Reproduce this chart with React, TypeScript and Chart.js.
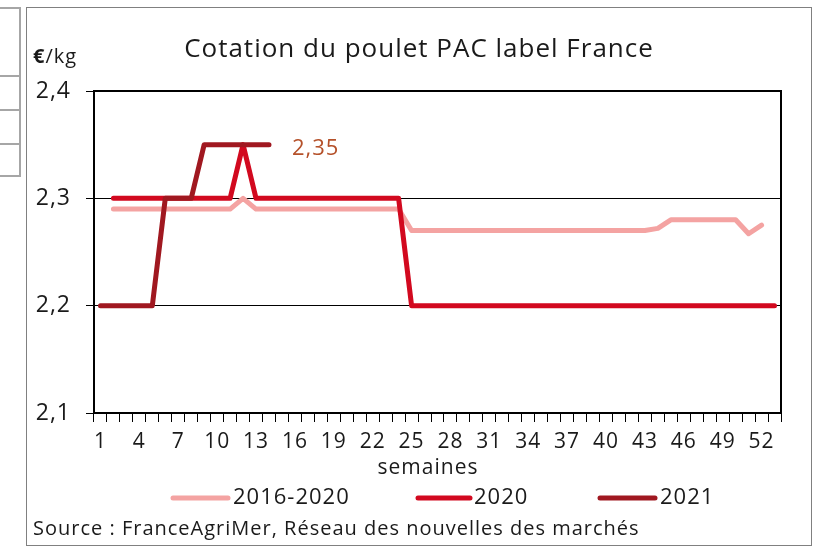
import React, { useEffect, useRef } from 'react';
import { Chart, registerables } from 'chart.js';
Chart.register(...registerables);

const FONT = '"Open Sans", sans-serif';
const SPACING = '1px';

const weeks: string[] = Array.from({ length: 53 }, (_, i) => String(i + 1));

const avg20162020: (number | null)[] = [
  null, 2.29, 2.29, 2.29, 2.29, 2.29, 2.29, 2.29, 2.29, 2.29,
  2.29, 2.30, 2.29, 2.29, 2.29, 2.29, 2.29, 2.29, 2.29, 2.29,
  2.29, 2.29, 2.29, 2.29, 2.27, 2.27, 2.27, 2.27, 2.27, 2.27,
  2.27, 2.27, 2.27, 2.27, 2.27, 2.27, 2.27, 2.27, 2.27, 2.27,
  2.27, 2.27, 2.27, 2.272, 2.28, 2.28, 2.28, 2.28, 2.28, 2.28,
  2.267, 2.275, null,
];

const y2020: (number | null)[] = [
  null, 2.3, 2.3, 2.3, 2.3, 2.3, 2.3, 2.3, 2.3, 2.3,
  2.3, 2.35, 2.3, 2.3, 2.3, 2.3, 2.3, 2.3, 2.3, 2.3,
  2.3, 2.3, 2.3, 2.3, 2.2, 2.2, 2.2, 2.2, 2.2, 2.2,
  2.2, 2.2, 2.2, 2.2, 2.2, 2.2, 2.2, 2.2, 2.2, 2.2,
  2.2, 2.2, 2.2, 2.2, 2.2, 2.2, 2.2, 2.2, 2.2, 2.2,
  2.2, 2.2, 2.2,
];

const y2021: (number | null)[] = [
  2.2, 2.2, 2.2, 2.2, 2.2, 2.3, 2.3, 2.3, 2.35, 2.35,
  2.35, 2.35, 2.35, 2.35,
];

const seriesNames = ['2016-2020', '2020', '2021'];
const seriesColors = ['#F4A3A2', '#D2091F', '#A01820'];
const yTicks = [2.1, 2.2, 2.3, 2.4];
const lastLabel = '2,35';

const extras = {
  id: 'extras',
  afterInit(chart: any) {
    chart.ctx.letterSpacing = SPACING;
  },
  beforeDraw(chart: any) {
    chart.ctx.letterSpacing = SPACING;
  },
  beforeDatasetsDraw(chart: any) {
    const { ctx, chartArea: a } = chart;
    ctx.save();
    ctx.strokeStyle = '#000';
    ctx.lineWidth = 2;
    ctx.strokeRect(a.left, a.top, a.right - a.left, a.bottom - a.top);
    ctx.restore();
  },
  afterDraw(chart: any) {
    const { ctx } = chart;
    ctx.save();
    ctx.letterSpacing = SPACING;
    ctx.fillStyle = '#1a1a1a';
    ctx.textBaseline = 'middle';
    // title
    ctx.font = `26px ${FONT}`;
    ctx.textAlign = 'center';
    ctx.fillText('Cotation du poulet PAC label France', 419, 50);
    // unit
    ctx.textAlign = 'left';
    ctx.font = `bold 20px ${FONT}`;
    ctx.fillText('€', 33, 57);
    const w = ctx.measureText('€').width;
    ctx.font = `20px ${FONT}`;
    ctx.fillText('/kg', 33 + w, 57);
    // x title
    ctx.textAlign = 'center';
    ctx.font = `21px ${FONT}`;
    ctx.fillText('semaines', 428, 468);
    // last value label
    ctx.textAlign = 'left';
    ctx.fillStyle = '#B5512A';
    ctx.font = `22px ${FONT}`;
    ctx.fillText(lastLabel, 292, 149);
    // legend
    const legendPos = [
      [173, 228, 233],
      [418, 470, 474],
      [600, 655, 660],
    ];
    ctx.font = `22px ${FONT}`;
    seriesNames.forEach((name, i) => {
      const [x0, x1, tx] = legendPos[i];
      ctx.strokeStyle = seriesColors[i];
      ctx.lineWidth = 5;
      ctx.lineCap = 'round';
      ctx.beginPath();
      ctx.moveTo(x0, 498);
      ctx.lineTo(x1, 498);
      ctx.stroke();
      ctx.fillStyle = '#1a1a1a';
      ctx.fillText(name, tx, 498);
    });
    // source
    ctx.font = `20px ${FONT}`;
    ctx.fillText('Source : FranceAgriMer, Réseau des nouvelles des marchés', 33, 529);
    ctx.restore();
  },
};

export default function App() {
  const ref = useRef<HTMLCanvasElement>(null);
  useEffect(() => {
    if (!ref.current) return;
    const mk = (label: string, data: (number | null)[], color: string, order: number) => ({
      label,
      data,
      borderColor: color,
      backgroundColor: color,
      borderWidth: 5,
      pointRadius: 0,
      pointHoverRadius: 0,
      tension: 0,
      fill: false,
      spanGaps: false,
      borderCapStyle: 'round',
      borderJoinStyle: 'round',
      order,
    });
    const chart = new Chart(ref.current, {
      type: 'line',
      data: {
        labels: weeks,
        datasets: [
          mk(seriesNames[0], avg20162020, seriesColors[0], 3),
          mk(seriesNames[1], y2020, seriesColors[1], 2),
          mk(seriesNames[2], y2021, seriesColors[2], 1),
        ] as any,
      },
      options: {
        animation: false,
        responsive: false,
        maintainAspectRatio: false,
        events: [],
        layout: { padding: { left: 0, top: 91, right: 40, bottom: 94 } },
        plugins: { legend: { display: false }, title: { display: false }, tooltip: { enabled: false } },
        scales: {
          x: {
            type: 'category',
            offset: true,
            grid: {
              display: true,
              offset: true,
              drawOnChartArea: false,
              drawTicks: true,
              tickLength: 9,
              color: '#000',
              lineWidth: 1,
            },
            border: { display: true, color: '#000', width: 2 },
            ticks: {
              autoSkip: false,
              maxRotation: 0,
              minRotation: 0,
              padding: 7,
              color: '#1a1a1a',
              font: { family: FONT, size: 21 },
              callback: (_v: any, i: number) => (i % 3 === 0 ? weeks[i] : ''),
            },
            afterFit: (s: any) => { s.height = 40; },
          },
          y: {
            min: yTicks[0],
            max: yTicks[yTicks.length - 1],
            afterBuildTicks: (s: any) => { s.ticks = yTicks.map((v) => ({ value: v })); },
            grid: {
              color: '#000',
              lineWidth: 1,
              drawTicks: true,
              tickLength: 8,
            },
            border: { display: true, color: '#000', width: 2 },
            ticks: {
              padding: 15,
              color: '#1a1a1a',
              font: { family: FONT, size: 23 },
              callback: (v: any) => Number(v).toFixed(1).replace('.', ','),
            },
            afterFit: (s: any) => { s.width = 94; },
          },
        },
      } as any,
      plugins: [extras],
    });
    return () => chart.destroy();
  }, []);

  const cell = (top: number, height: number) => (
    <div
      key={top}
      style={{
        position: 'absolute', left: -4, top, width: 25, height,
        border: '2px solid #A6A6A6', boxSizing: 'border-box',
      }}
    />
  );

  return (
    <div style={{ position: 'fixed', left: 0, top: 0, width: 821, height: 547, background: '#fff' }}>
      {cell(7, 70)}
      {cell(75, 36)}
      {cell(109, 36)}
      {cell(143, 34)}
      <div
        style={{
          position: 'absolute', left: 26, top: 7, width: 786, height: 539,
          border: '1px solid #808080', boxSizing: 'border-box',
        }}
      />
      <canvas ref={ref} width={821} height={547} style={{ position: 'absolute', left: 0, top: 0 }} />
    </div>
  );
}
